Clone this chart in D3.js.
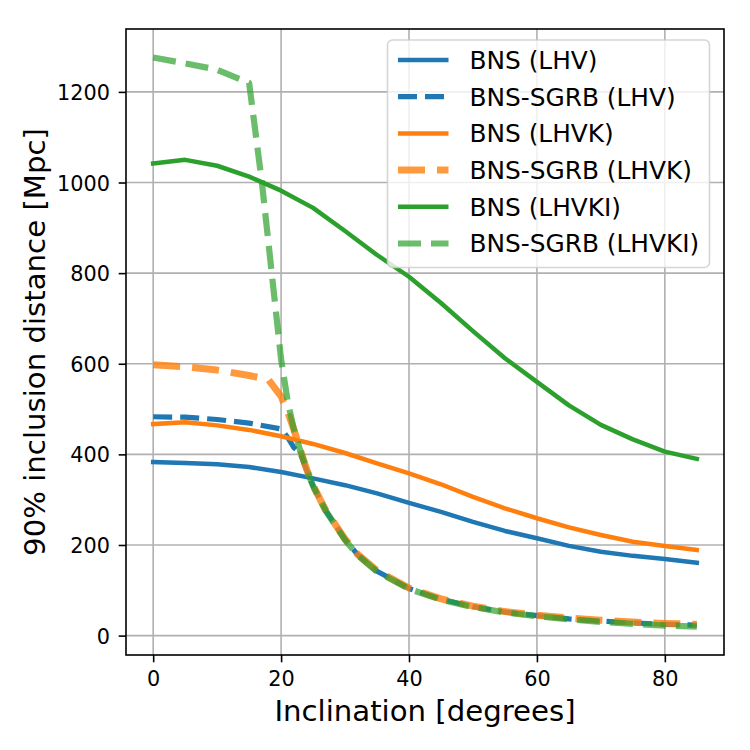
<!DOCTYPE html>
<html>
<head>
<meta charset="utf-8">
<script src="https://cdn.jsdelivr.net/npm/d3@7"></script>
<style>
  body { margin: 0; background: #fff; }
  svg text { font-family: "DejaVu Sans", sans-serif; fill: #000; }
</style>
</head>
<body>
<div id="chart"></div>
<script>
// inclination grid for the plain BNS curves
const inclination = [0, 5, 10, 15, 20, 25, 30, 35, 40, 45, 50, 55, 60, 65, 70, 75, 80, 85];

const bnsLHV   = [383, 381, 378, 372, 361, 347, 332, 314, 293, 273, 251, 231, 215, 198, 185, 176, 169, 161];
const bnsLHVK  = [467, 471, 464, 454, 440, 423, 403, 380, 358, 334, 306, 281, 259, 239, 222, 207, 198, 189];
const bnsLHVKI = [1042, 1050, 1037, 1013, 982, 944, 893, 840, 792, 734, 672, 612, 560, 508, 465, 433, 406, 390];

// short GRB curves have their own (denser) inclination samples
const sgrbLHVx  = [0, 5, 10, 15, 20, 21, 22, 23, 24, 25, 27, 30, 32, 35, 40, 45, 50, 55, 60, 65, 70, 75, 80, 85];
const sgrbLHV   = [483, 482, 477, 469, 456, 438, 415, 402, 365, 330, 275, 212, 178, 142, 104, 80, 64, 52, 44, 37, 32, 28, 25, 23];
const sgrbLHVKx = [0, 5, 10, 15, 18, 20, 21, 22, 23, 24, 25, 27, 30, 32, 35, 40, 45, 50, 55, 60, 65, 70, 75, 80, 85];
const sgrbLHVK  = [598, 593, 586, 574, 565, 528, 495, 455, 410, 367, 331, 276, 213, 179, 143, 105, 81, 65, 53, 45, 39, 34, 30, 27, 25];
const sgrbLHVKIx = [0, 5, 10, 15, 17, 19, 20, 21, 22, 23, 24, 25, 27, 30, 32, 35, 40, 45, 50, 55, 60, 65, 70, 75, 80, 85];
const sgrbLHVKI  = [1276, 1263, 1249, 1220, 1000, 740, 610, 520, 455, 408, 366, 330, 275, 211, 177, 141, 103, 79, 63, 51, 43, 36, 30, 26, 22, 20];

const xTicks = [0, 20, 40, 60, 80];
const yTicks = [0, 200, 400, 600, 800, 1000, 1200];

const labels = ["BNS (LHV)", "BNS-SGRB (LHV)", "BNS (LHVK)", "BNS-SGRB (LHVK)", "BNS (LHVKI)", "BNS-SGRB (LHVKI)"];

const blue = "#1f77b4", orange = "#ff7f0e", green = "#2ca02c";

const series = [
  { label: labels[0], xs: inclination, ys: bnsLHV,    color: blue,   width: 4.5, dash: null,    opacity: 1 },
  { label: labels[1], xs: sgrbLHVx,    ys: sgrbLHV,   color: blue,   width: 5.2, dash: "19,8",  opacity: 1 },
  { label: labels[2], xs: inclination, ys: bnsLHVK,   color: orange, width: 4.5, dash: null,    opacity: 1 },
  { label: labels[3], xs: sgrbLHVKx,   ys: sgrbLHVK,  color: orange, width: 7,   dash: "27,12", opacity: 0.8 },
  { label: labels[4], xs: inclination, ys: bnsLHVKI,  color: green,  width: 4.5, dash: null,    opacity: 1 },
  { label: labels[5], xs: sgrbLHVKIx,  ys: sgrbLHVKI, color: green,  width: 6.2, dash: "23,10", opacity: 0.7 }
];

const W = 750, H = 750;
const margin = { top: 29, right: 26, bottom: 95, left: 126 };
const plotW = W - margin.left - margin.right;
const plotH = H - margin.top - margin.bottom;

// matplotlib-like 5% padding around the data
const allX = series.flatMap(s => s.xs);
const allY = series.flatMap(s => s.ys);
const [x0, x1] = d3.extent(allX);
const [y0, y1] = d3.extent(allY);
const padX = (x1 - x0) * 0.05, padY = (y1 - y0) * 0.05;

const x = d3.scaleLinear().domain([x0 - padX, x1 + padX]).range([0, plotW]);
const y = d3.scaleLinear().domain([y0 - padY, y1 + padY]).range([plotH, 0]);

const svg = d3.select("#chart").append("svg")
  .attr("width", W)
  .attr("height", H);

const g = svg.append("g").attr("transform", `translate(${margin.left},${margin.top})`);

// grid
g.append("g").selectAll("line").data(xTicks).join("line")
  .attr("x1", d => x(d)).attr("x2", d => x(d))
  .attr("y1", 0).attr("y2", plotH)
  .attr("stroke", "#b0b0b0").attr("stroke-width", 1.6);

g.append("g").selectAll("line").data(yTicks).join("line")
  .attr("x1", 0).attr("x2", plotW)
  .attr("y1", d => y(d)).attr("y2", d => y(d))
  .attr("stroke", "#b0b0b0").attr("stroke-width", 1.6);

// lines
const line = d3.line()
  .x(d => x(d[0]))
  .y(d => y(d[1]));

series.forEach(s => {
  g.append("path")
    .datum(s.xs.map((v, i) => [v, s.ys[i]]))
    .attr("fill", "none")
    .attr("stroke", s.color)
    .attr("stroke-opacity", s.opacity)
    .attr("stroke-width", s.width)
    .attr("stroke-dasharray", s.dash)
    .attr("stroke-linecap", s.dash ? "butt" : "square")
    .attr("stroke-linejoin", "round")
    .attr("d", line);
});

// axes
const xAxis = g.append("g")
  .attr("transform", `translate(0,${plotH})`)
  .call(d3.axisBottom(x).tickValues(xTicks).tickSize(7.3).tickPadding(8.9).tickFormat(d3.format("d")));

const yAxis = g.append("g")
  .call(d3.axisLeft(y).tickValues(yTicks).tickSize(7.3).tickPadding(8.7).tickFormat(d3.format("d")));

[xAxis, yAxis].forEach(a => {
  a.select(".domain").remove();
  a.selectAll(".tick line").attr("stroke", "#000").attr("stroke-width", 1.6);
  a.selectAll("text")
    .attr("font-family", "DejaVu Sans")
    .attr("font-size", 20.8)
    .attr("fill", "#000");
});
yAxis.selectAll("text").attr("dy", "0.36em");

// frame
g.append("rect")
  .attr("width", plotW).attr("height", plotH)
  .attr("fill", "none").attr("stroke", "#000").attr("stroke-width", 1.6);

// axis labels
svg.append("text")
  .attr("x", margin.left + plotW / 2)
  .attr("y", 721)
  .attr("text-anchor", "middle")
  .attr("font-size", 29.2)
  .text("Inclination [degrees]");

svg.append("text")
  .attr("transform", `translate(45,${margin.top + plotH / 2}) rotate(-90)`)
  .attr("text-anchor", "middle")
  .attr("font-size", 29.2)
  .text("90% inclusion distance [Mpc]");

// legend
const legend = svg.append("g").attr("transform", "translate(387.5,40)");
legend.append("rect")
  .attr("width", 322).attr("height", 227.5)
  .attr("rx", 5).attr("ry", 5)
  .attr("fill", "#fff").attr("fill-opacity", 0.8)
  .attr("stroke", "#cccccc").attr("stroke-opacity", 0.8).attr("stroke-width", 1.6);

const rowH = 36.7;
const items = legend.selectAll("g.item").data(series).join("g")
  .attr("class", "item")
  .attr("transform", (d, i) => `translate(0,${20 + i * rowH})`);

items.append("line")
  .attr("x1", 10.5)
  .attr("x2", 61)
  .attr("y1", 0).attr("y2", 0)
  .attr("stroke", d => d.color)
  .attr("stroke-opacity", d => d.opacity)
  .attr("stroke-width", d => d.width)
  .attr("stroke-dasharray", d => d.dash)
  .attr("stroke-linecap", "butt");

items.append("text")
  .attr("x", 82)
  .attr("y", 8.8)
  .attr("font-size", 24.8)
  .text(d => d.label);
</script>
</body>
</html>
